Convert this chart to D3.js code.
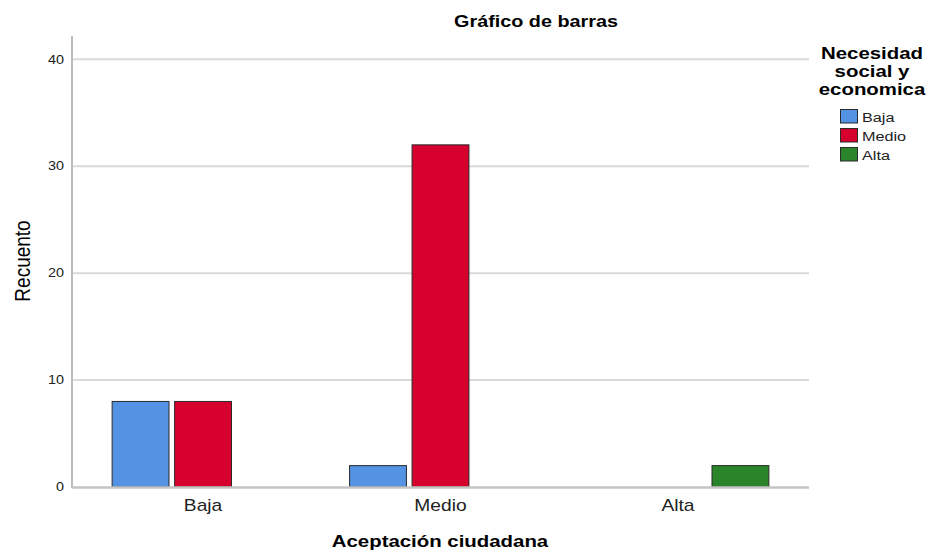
<!DOCTYPE html>
<html><head><meta charset="utf-8">
<script src="https://cdn.jsdelivr.net/npm/d3@7"></script>
<style>body{margin:0;background:#fff}svg{display:block;font-family:"Liberation Sans",Arial,sans-serif}</style>
</head><body><svg id="c" width="927" height="550"></svg>
<script>
const categories = ["Baja", "Medio", "Alta"];
const series = ["Baja", "Medio", "Alta"];
const valBaja = [8, 2, 0];
const valMedio = [8, 32, 0];
const valAlta = [0, 0, 2];
const seriesValues = [valBaja, valMedio, valAlta];
const colors = ["#5492e3", "#d5002e", "#2a842a"];
const yTicks = [0, 10, 20, 30, 40];
const titleText = "Gráfico de barras";
const xTitle = "Aceptación ciudadana";
const yTitle = "Recuento";
const legendTitle = ["Necesidad", "social y", "economica"];

const svg = d3.select("#c");
const SX = 1.2;
const pLeft = 72, pRight = 809, pTop = 36, pBottom = 487;

const y = d3.scaleLinear().domain([0, 42.18]).range([pBottom, pTop]);
const x = d3.scalePoint().domain(categories).range([pLeft, pRight]).padding(0.552);
const xi = d3.scaleBand().domain(series).range([-93.75, 93.75]).paddingInner(0.09).paddingOuter(0.045);
const color = d3.scaleOrdinal().domain(series).range(colors);

function txt(g, s, px, py, size, opts = {}) {
  const t = g.append("text")
    .attr("transform", `translate(${px},${py}) scale(${SX},1)` + (opts.rot ? ` rotate(${opts.rot})` : ""))
    .attr("font-size", size)
    .attr("text-anchor", opts.anchor || "middle")
    .attr("font-weight", opts.bold ? "bold" : "normal")
    .attr("fill", opts.fill || "#000")
    .text(s);
  if (opts.dy) t.attr("dy", opts.dy);
  return t;
}

// gridlines
svg.append("g").selectAll("line").data(yTicks.filter(d => d > 0)).join("line")
  .attr("x1", pLeft + 1).attr("x2", pRight)
  .attr("y1", d => y(d)).attr("y2", d => y(d))
  .attr("stroke", "#dadada").attr("stroke-width", 2);

// y axis
const yAxis = d3.axisLeft(y).tickValues(yTicks).tickSize(0).tickPadding(8);
const ga = svg.append("g").attr("transform", `translate(${pLeft},0)`).call(yAxis);
ga.select(".domain").remove();
ga.selectAll("text").remove();
yTicks.forEach(v => txt(svg, v, 64, y(v), 12, {anchor: "end", dy: "0.35em", fill: "#222"}));
svg.append("line").attr("x1", pLeft).attr("x2", pLeft).attr("y1", pTop).attr("y2", pBottom + 1)
  .attr("stroke", "#a6a6a6").attr("stroke-width", 1.5);

// bars
const rows = [];
categories.forEach((c, ci) => series.forEach((s, si) => {
  const v = seriesValues[si][ci];
  if (v > 0) rows.push({c, s, v});
}));
svg.append("g").selectAll("rect").data(rows).join("rect")
  .attr("x", d => x(d.c) + xi(d.s))
  .attr("width", xi.bandwidth())
  .attr("y", d => y(d.v))
  .attr("height", d => y(0) - y(d.v))
  .attr("fill", d => color(d.s))
  .attr("stroke", "#2b2b2b").attr("stroke-width", 1);

// baseline
svg.append("line").attr("x1", pLeft).attr("x2", pRight).attr("y1", y(0) + 0.5).attr("y2", y(0) + 0.5)
  .attr("stroke", "#c4c4c4").attr("stroke-width", 2.5);

// x labels
const xAxis = d3.axisBottom(x).tickSize(0);
const gx = svg.append("g").attr("transform", `translate(0,${pBottom})`).call(xAxis);
gx.select(".domain").remove();
gx.selectAll("text").remove();
categories.forEach(c => txt(svg, c, x(c), 511, 16, {fill: "#222"}));

// titles
txt(svg, titleText, 536, 27, 16.5, {bold: true});
txt(svg, xTitle, 440, 546.5, 17, {bold: true});
txt(svg, yTitle, 30, 261, 19, {rot: -90});

// legend
legendTitle.forEach((l, i) => txt(svg, l, 872, 59 + i * 18, 17, {bold: true}));
const lg = svg.append("g");
series.forEach((s, i) => {
  const yy = 109 + i * 19;
  lg.append("rect").attr("x", 840.5).attr("y", yy + 0.5).attr("width", 17).attr("height", 13.5)
    .attr("fill", color(s)).attr("stroke", "#2b2b2b").attr("stroke-width", 1);
  txt(lg, s, 862, yy + 13, 13.5, {anchor: "start", fill: "#222"});
});
</script></body></html>
